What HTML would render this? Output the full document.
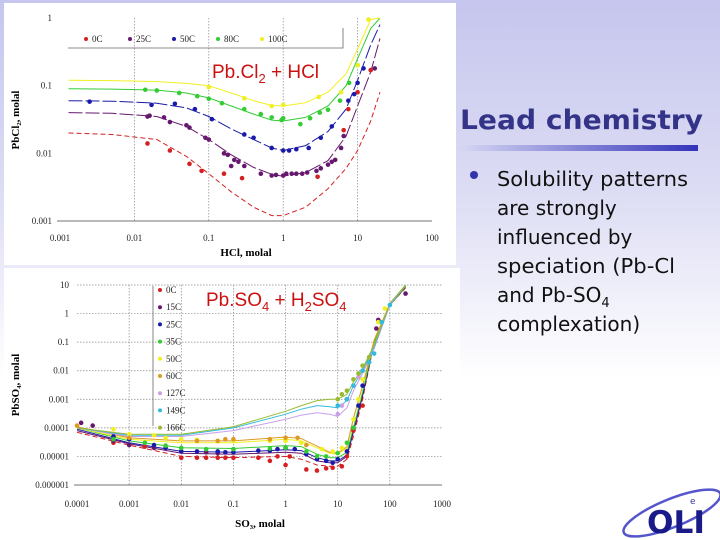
<!DOCTYPE html>
<html><head><meta charset="utf-8"><style>
html,body{margin:0;padding:0;width:720px;height:540px;overflow:hidden}
svg{display:block}
.tk{font-family:"Liberation Serif",serif;font-size:9px;fill:#222}
</style></head><body>
<svg id="s" width="720" height="540" xmlns="http://www.w3.org/2000/svg">
<defs>
<linearGradient id="bg" x1="0" y1="0" x2="0" y2="1">
<stop offset="0" stop-color="#c6c6ee"/><stop offset="0.35" stop-color="#dcdcf4"/><stop offset="0.7" stop-color="#ffffff"/><stop offset="1" stop-color="#ffffff"/></linearGradient>
<linearGradient id="bar" x1="0" y1="0" x2="1" y2="0">
<stop offset="0" stop-color="#d8d8f4"/><stop offset="1" stop-color="#3333bb"/></linearGradient>
</defs>
<rect width="720" height="540" fill="url(#bg)"/>
<rect x="4" y="3" width="452" height="262" fill="#fff"/>
<rect x="4" y="268" width="456" height="272" fill="#fff"/>
<text x="460" y="129" font-family="DejaVu Sans,sans-serif" font-weight="bold" font-size="27" fill="#333388" textLength="243" lengthAdjust="spacingAndGlyphs">Lead chemistry</text>
<rect x="458" y="145" width="240" height="6" fill="url(#bar)"/>
<circle cx="474" cy="175" r="4" fill="#3333aa"/>
<g font-family="DejaVu Sans,sans-serif" font-size="20" fill="#111">
<text x="497" y="186" textLength="191" lengthAdjust="spacingAndGlyphs">Solubility patterns</text>
<text x="497" y="215">are strongly</text>
<text x="497" y="244">influenced by</text>
<text x="497" y="273" textLength="178" lengthAdjust="spacingAndGlyphs">speciation (Pb-Cl</text>
<text x="497" y="302">and Pb-SO<tspan font-size="13" dy="5">4</tspan></text>
<text x="497" y="331">complexation)</text>
</g>
<g>
<ellipse cx="672" cy="513" rx="52" ry="14" transform="rotate(-22 672 513)" fill="none" stroke="#5555cc" stroke-width="2.5"/>
<text x="647" y="533" font-family="DejaVu Sans,sans-serif" font-weight="bold" font-size="31" fill="#1a1a88" textLength="58" lengthAdjust="spacingAndGlyphs">OLI</text>
<text x="690" y="504" font-family="DejaVu Sans,sans-serif" font-size="9" fill="#3333aa">e</text>
</g>
<g id="top"></g><g id="bot"></g>
</svg>
<script>
// ---------- TOP CHART DATA (PbCl2 + HCl) ----------
const topNames = ["0C","25C","50C","80C","100C"];
const topColors = ["#d42020","#66186e","#1a1aaa","#33cc33","#f0f020"];
const topCurveX = [0.0013,0.005,0.02,0.05,0.1,0.2,0.4,0.7,1,2,4,7,10,15,20];
const topCurveY = [
 [0.02,0.019,0.016,0.009,0.005,0.0027,0.0016,0.0012,0.0012,0.0016,0.003,0.006,0.011,0.03,0.08],
 [0.04,0.039,0.035,0.025,0.016,0.0095,0.0062,0.0049,0.0046,0.0052,0.0078,0.018,0.05,0.16,0.5],
 [0.06,0.059,0.055,0.047,0.035,0.023,0.016,0.012,0.011,0.013,0.021,0.045,0.12,0.4,0.8],
 [0.09,0.089,0.086,0.078,0.066,0.05,0.038,0.031,0.03,0.034,0.05,0.1,0.25,0.7,1],
 [0.12,0.119,0.115,0.108,0.1,0.078,0.06,0.051,0.05,0.056,0.08,0.15,0.35,0.95,1]];
const topPtsX = [
 [0.015,0.03,0.055,0.08,0.16,0.28,2.9,6.5,7.5,10,15],
 [0.015,0.016,0.025,0.03,0.05,0.055,0.09,0.1,0.16,0.18,0.2,0.22,0.25,0.3,0.5,0.7,0.8,1,1.1,1.3,1.5,1.8,2.1,2.8,3.2,4,4.5,5,6,6.5,17],
 [0.0025,0.017,0.035,0.065,0.11,0.3,0.4,0.7,1,1.2,1.5,2.2,3.2,4.5,7.5,9,10,12],
 [0.014,0.02,0.04,0.07,0.1,0.15,0.3,0.5,0.7,0.95,1,1.7,2.3,3.1,4,5.8,7.7,10],
 [0.1,0.3,0.7,1,3,6,10,14]];
const topPtsY = [
 [0.014,0.011,0.007,0.0055,0.005,0.0043,0.0045,0.022,0.045,0.08,0.17],
 [0.035,0.036,0.034,0.029,0.026,0.024,0.017,0.016,0.01,0.0095,0.0065,0.008,0.0075,0.0065,0.005,0.0047,0.0048,0.0047,0.005,0.005,0.005,0.005,0.0052,0.0055,0.006,0.0068,0.0075,0.008,0.012,0.018,0.18],
 [0.058,0.052,0.054,0.045,0.032,0.019,0.017,0.012,0.011,0.011,0.0115,0.012,0.017,0.025,0.06,0.075,0.11,0.18],
 [0.087,0.085,0.078,0.07,0.064,0.055,0.045,0.038,0.034,0.031,0.033,0.027,0.033,0.04,0.044,0.06,0.11,0.2],
 [0.095,0.065,0.05,0.052,0.068,0.08,0.2,0.95]];
const topXTicks = ["0.001","0.01","0.1","1","10","100"];
const topYTicks = ["0.001","0.01","0.1","1"];

// ---------- BOTTOM CHART DATA (PbSO4 + H2SO4) ----------
const botNames = ["0C","15C","25C","35C","50C","60C","127C","149C","166C"];
const botColors = ["#d42020","#66186e","#1a1aaa","#33cc33","#f0f020","#dd9922","#c8a0e8","#33bbdd","#99bb33"];
const botCurveX = [0.0001,0.001,0.01,0.1,1,2,4,7,10,15,20,30,50,100,200];
const botCurveY = [
 [7e-5,2.5e-5,1e-5,9e-6,1e-5,8e-6,5e-6,4.5e-6,4.5e-6,8e-6,5e-5,1e-3,0.1,2,8],
 [8e-5,2.8e-5,1.3e-5,1.2e-5,1.4e-5,1.3e-5,7e-6,6e-6,6e-6,1e-5,7e-5,1.3e-3,0.1,2,8.5],
 [9e-5,3e-5,1.5e-5,1.4e-5,1.7e-5,1.6e-5,9e-6,7e-6,7e-6,1.1e-5,8e-5,1.5e-3,0.1,2,9],
 [1e-4,3.5e-5,2e-5,1.9e-5,2.4e-5,2.2e-5,1.2e-5,9e-6,9e-6,1.4e-5,1e-4,1.8e-3,0.1,2,9],
 [1e-4,4e-5,3e-5,3e-5,4e-5,3.5e-5,2e-5,1.3e-5,1.2e-5,2e-5,2e-4,3e-3,0.12,2.2,9.5],
 [1.1e-4,4.5e-5,3.5e-5,3.5e-5,4.8e-5,4.2e-5,2.3e-5,1.4e-5,1.3e-5,2.2e-5,2.2e-4,3e-3,0.12,2.2,9.5],
 [1e-4,5e-5,5e-5,8e-5,2e-4,2.8e-4,3.4e-4,3e-4,2.5e-4,5e-4,2e-3,8e-3,0.06,2,10],
 [1e-4,5.5e-5,5.5e-5,1e-4,3e-4,4.5e-4,6e-4,5.5e-4,5e-4,9e-4,3e-3,1e-2,0.07,2.2,10],
 [1e-4,6e-5,6e-5,1.1e-4,3.8e-4,6e-4,9e-4,1e-3,1e-3,1.5e-3,4e-3,1.2e-2,0.08,2.3,10]];
const botPtsX = [
 [0.0005,0.002,0.01,0.02,0.03,0.05,0.07,0.1,0.3,0.5,0.7,1,1.2,2.5,4,6,8,12,15,20,30],
 [0.00012,0.0002,0.0005,0.001,0.003,0.01,0.03,0.05,55,60,200],
 [0.0005,0.001,0.003,0.005,0.01,0.02,0.05,0.07,0.1,0.3,0.5,0.7,1,1.5,2.5,4,6,8,10,15,20,25,30,40],
 [0.0005,0.002,0.005,0.01,0.03,0.1,0.5,1,2.5,4,6,10,15,20],
 [0.0005,0.001,0.003,0.005,0.01,0.02,0.05,0.1,0.5,1,2,5,8,12,20,25,30,40,60,80],
 [0.0001,0.001,0.02,0.05,0.07,0.1,0.5,1,1.7,2.5],
 [10,12,15,20,25,30],
 [10,15,20,30,40,50,70,100],
 [10,12,15,20,25,30,40]];
const botPtsY = [
 [3e-5,2.2e-5,9e-6,9e-6,9e-6,9e-6,9e-6,9e-6,9e-6,7e-6,1e-5,5e-6,1e-5,3.5e-6,3.2e-6,3.8e-6,4e-6,4.5e-6,1e-5,8e-5,6e-4],
 [1.5e-4,1.2e-4,3.5e-5,2.5e-5,2e-5,1.5e-5,1.4e-5,1.3e-5,0.3,0.6,5],
 [5e-5,4e-5,2.5e-5,2e-5,1.5e-5,1.5e-5,1.5e-5,1.4e-5,1.4e-5,1.6e-5,1.6e-5,1.8e-5,2e-5,1.8e-5,1.2e-5,8e-6,7e-6,6e-6,8e-6,1.5e-5,1e-4,6e-4,3e-3,0.02],
 [4e-5,3e-5,2.4e-5,2e-5,1.8e-5,1.8e-5,1.9e-5,2e-5,1.5e-5,1e-5,1e-5,1.3e-5,3e-5,1e-4],
 [9e-5,6e-5,5.5e-5,4.5e-5,4e-5,3.8e-5,3.5e-5,3.5e-5,3.5e-5,3.5e-5,3e-5,1.8e-5,1.5e-5,2e-5,2e-4,1e-3,5e-3,0.02,0.5,1.5],
 [1.2e-4,4.5e-5,3.5e-5,3.5e-5,4e-5,4e-5,4e-5,4.5e-5,4.5e-5,2.5e-5],
 [3e-4,6e-4,1e-3,3e-3,6e-3,1e-2],
 [6e-4,1e-3,3e-3,1e-2,0.02,0.04,0.5,2],
 [1e-3,1.5e-3,2e-3,5e-3,8e-3,1.5e-2,0.03]];
const botXTicks = ["0.0001","0.001","0.01","0.1","1","10","100","1000"];
const botYTicks = ["0.000001","0.00001","0.0001","0.001","0.01","0.1","1","10"];

const NS="http://www.w3.org/2000/svg";
function mk(parent,tag,attrs,text){const e=document.createElementNS(NS,tag);for(const k in attrs)e.setAttribute(k,attrs[k]);if(text!==undefined)e.textContent=text;parent.appendChild(e);return e;}
function axis(lo,hi,p0,p1){return v=>p0+(Math.log10(v)-lo)/(hi-lo)*(p1-p0);}

function drawChart(g,cfg){
 const X=axis(cfg.xlo,cfg.xhi,cfg.x0,cfg.x1), Y=axis(cfg.ylo,cfg.yhi,cfg.y0,cfg.y1);
 // gridlines
 cfg.xTicks.forEach((t,i)=>{const x=X(+t);
  if(cfg.vgrid && i>0 && i<cfg.xTicks.length-1){const l=mk(g,'line',{x1:x,x2:x,y1:cfg.y1,y2:cfg.y0,stroke:'#888','stroke-dasharray':'1.5,1.5','stroke-width':0.7});
   
   }
  const tx=mk(g,'text',{x:x,y:cfg.y0+cfg.xlab,'text-anchor':'middle',class:'tk'},t);
  
  });
 cfg.yTicks.forEach((t,i)=>{const y=Y(+t);
  if(cfg.hgrid && i>0){const l=mk(g,'line',{x1:cfg.x0,x2:cfg.x1,y1:y,y2:y,stroke:'#888','stroke-dasharray':'1.5,1.5','stroke-width':0.7});
   
   }
  const tx=mk(g,'text',{x:cfg.x0-cfg.ylab,y:y+3,'text-anchor':'end',class:'tk'},t);
  
  });
 const ax=mk(g,'line',{x1:cfg.x0-3,x2:cfg.x1,y1:cfg.y0,y2:cfg.y0,stroke:'#444','stroke-width':0.8});
 
 
 // curves
 cfg.curveY.forEach((ys,s)=>{
  const d=ys.map((v,i)=>(i?'L':'M')+X(cfg.curveX[i]).toFixed(1)+','+Y(v).toFixed(1)).join(' ');
  const p=mk(g,'path',{d:d,fill:'none',stroke:cfg.colors[s],'stroke-width':1,'stroke-dasharray':s===0?'5,3':(cfg.dash&&s<3?'14,3':'none')});
  
  
 });
 cfg.ptsX.forEach((xs,s)=>{xs.forEach((xv,i)=>{
  const c=mk(g,'circle',{cx:X(xv),cy:Y(cfg.ptsY[s][i]),r:2.3,fill:cfg.colors[s]});
  
  
 });});
}

const gt=document.getElementById('top');
drawChart(gt,{xlo:-3,xhi:2,x0:60,x1:432,ylo:-3,yhi:0,y0:221,y1:18,xTicks:topXTicks,yTicks:topYTicks,xlab:20,ylab:8,vgrid:true,hgrid:false,dash:true,
 names:topNames,colors:topColors,curveX:topCurveX,curveY:topCurveY,ptsX:topPtsX,ptsY:topPtsY});
// top legend
mk(gt,'polyline',{points:'68,48 343,48 343,28',fill:'none',stroke:'#666','stroke-width':0.8});
topNames.forEach((n,i)=>{const x=86+i*44;
 const c=mk(gt,'circle',{cx:x,cy:39,r:2,fill:topColors[i]});
 
 
 const t=mk(gt,'text',{x:x+6,y:42,class:'tk'},n);
 
 });
const tt=mk(gt,'text',{x:212,y:78,'font-family':'Liberation Sans,sans-serif','font-size':19,fill:'#cc1111'});


tt.innerHTML='Pb.Cl<tspan font-size="13" dy="5">2</tspan><tspan dy="-5"> + HCl</tspan>';
const tyt=mk(gt,'text',{transform:'translate(19,120) rotate(-90)','text-anchor':'middle','font-family':'Liberation Serif,serif','font-weight':'bold','font-size':11},'PbCl₂, molal');


const txt=mk(gt,'text',{x:246,y:256,'text-anchor':'middle','font-family':'Liberation Serif,serif','font-weight':'bold','font-size':11},'HCl, molal');



const gb=document.getElementById('bot');
drawChart(gb,{xlo:-4,xhi:3,x0:77,x1:442,ylo:-6,yhi:1,y0:485,y1:285,xTicks:botXTicks,yTicks:botYTicks,xlab:22,ylab:8,vgrid:true,hgrid:true,dash:false,
 names:botNames,colors:botColors,curveX:botCurveX,curveY:botCurveY,ptsX:botPtsX,ptsY:botPtsY});
mk(gb,'line',{x1:153,x2:153,y1:286,y2:426,stroke:'#666','stroke-width':0.8});
botNames.forEach((n,i)=>{const y=290+i*17.2;
 const c=mk(gb,'circle',{cx:160,cy:y,r:2,fill:botColors[i]});
 
 
 const t=mk(gb,'text',{x:166,y:y+3,class:'tk'},n);
 
 });
const bt=mk(gb,'text',{x:206,y:306,'font-family':'Liberation Sans,sans-serif','font-size':19,fill:'#cc1111'});


bt.innerHTML='Pb.SO<tspan font-size="13" dy="5">4</tspan><tspan dy="-5"> + H</tspan><tspan font-size="13" dy="5">2</tspan><tspan dy="-5">SO</tspan><tspan font-size="13" dy="5">4</tspan>';
const byt=mk(gb,'text',{transform:'translate(19,385) rotate(-90)','text-anchor':'middle','font-family':'Liberation Serif,serif','font-weight':'bold','font-size':11},'PbSO₄, molal');


const bxt=mk(gb,'text',{x:260,y:527,'text-anchor':'middle','font-family':'Liberation Serif,serif','font-weight':'bold','font-size':11},'SO₃, molal');


</script>
</body></html>
